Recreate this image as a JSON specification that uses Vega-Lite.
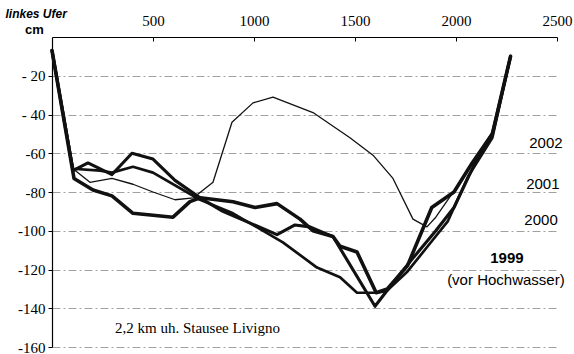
{
  "$schema": "https://vega.github.io/schema/vega-lite/v6.json",
  "width": 505,
  "height": 310,
  "autosize": "none",
  "padding": {"left": 52, "top": 37, "right": 17, "bottom": 7},
  "background": "white",
  "view": {"stroke": null},
  "config": {"font": "Liberation Sans"},
  "datasets": {
    "profiles": [
      {"yr": "1999", "x": 0, "y": -7}, {"yr": "1999", "x": 109, "y": -73}, {"yr": "1999", "x": 203, "y": -79}, {"yr": "1999", "x": 297, "y": -82}, {"yr": "1999", "x": 401, "y": -91}, {"yr": "1999", "x": 599, "y": -93}, {"yr": "1999", "x": 683, "y": -85}, {"yr": "1999", "x": 733, "y": -83}, {"yr": "1999", "x": 896, "y": -85}, {"yr": "1999", "x": 1005, "y": -88}, {"yr": "1999", "x": 1114, "y": -86}, {"yr": "1999", "x": 1228, "y": -94}, {"yr": "1999", "x": 1292, "y": -100}, {"yr": "1999", "x": 1391, "y": -103}, {"yr": "1999", "x": 1426, "y": -108}, {"yr": "1999", "x": 1510, "y": -111}, {"yr": "1999", "x": 1605, "y": -132}, {"yr": "1999", "x": 1660, "y": -130}, {"yr": "1999", "x": 1760, "y": -118}, {"yr": "1999", "x": 1880, "y": -88}, {"yr": "1999", "x": 1990, "y": -80}, {"yr": "1999", "x": 2080, "y": -65}, {"yr": "1999", "x": 2180, "y": -50}, {"yr": "1999", "x": 2270, "y": -10},
      {"yr": "2000", "x": 0, "y": -7}, {"yr": "2000", "x": 104, "y": -69}, {"yr": "2000", "x": 178, "y": -65}, {"yr": "2000", "x": 297, "y": -71}, {"yr": "2000", "x": 396, "y": -60}, {"yr": "2000", "x": 500, "y": -63}, {"yr": "2000", "x": 609, "y": -74}, {"yr": "2000", "x": 733, "y": -83}, {"yr": "2000", "x": 846, "y": -90}, {"yr": "2000", "x": 1114, "y": -102}, {"yr": "2000", "x": 1203, "y": -97}, {"yr": "2000", "x": 1277, "y": -98}, {"yr": "2000", "x": 1391, "y": -103}, {"yr": "2000", "x": 1599, "y": -139}, {"yr": "2000", "x": 1658, "y": -131}, {"yr": "2000", "x": 1780, "y": -115}, {"yr": "2000", "x": 1900, "y": -100}, {"yr": "2000", "x": 1990, "y": -88}, {"yr": "2000", "x": 2090, "y": -66}, {"yr": "2000", "x": 2180, "y": -50}, {"yr": "2000", "x": 2270, "y": -10},
      {"yr": "2001", "x": 0, "y": -7}, {"yr": "2001", "x": 104, "y": -68}, {"yr": "2001", "x": 238, "y": -69}, {"yr": "2001", "x": 297, "y": -70}, {"yr": "2001", "x": 401, "y": -67}, {"yr": "2001", "x": 500, "y": -70}, {"yr": "2001", "x": 733, "y": -84}, {"yr": "2001", "x": 896, "y": -91}, {"yr": "2001", "x": 1143, "y": -106}, {"yr": "2001", "x": 1312, "y": -119}, {"yr": "2001", "x": 1426, "y": -124}, {"yr": "2001", "x": 1510, "y": -132}, {"yr": "2001", "x": 1609, "y": -132}, {"yr": "2001", "x": 1658, "y": -131}, {"yr": "2001", "x": 1760, "y": -121}, {"yr": "2001", "x": 1860, "y": -108}, {"yr": "2001", "x": 1960, "y": -95}, {"yr": "2001", "x": 2060, "y": -72}, {"yr": "2001", "x": 2180, "y": -52}, {"yr": "2001", "x": 2270, "y": -10},
      {"yr": "2002", "x": 0, "y": -7}, {"yr": "2002", "x": 104, "y": -68}, {"yr": "2002", "x": 188, "y": -75}, {"yr": "2002", "x": 297, "y": -73}, {"yr": "2002", "x": 401, "y": -76}, {"yr": "2002", "x": 500, "y": -80}, {"yr": "2002", "x": 609, "y": -84}, {"yr": "2002", "x": 700, "y": -83}, {"yr": "2002", "x": 797, "y": -75}, {"yr": "2002", "x": 891, "y": -44}, {"yr": "2002", "x": 995, "y": -34}, {"yr": "2002", "x": 1094, "y": -31}, {"yr": "2002", "x": 1292, "y": -39}, {"yr": "2002", "x": 1475, "y": -52}, {"yr": "2002", "x": 1589, "y": -61}, {"yr": "2002", "x": 1688, "y": -73}, {"yr": "2002", "x": 1787, "y": -94}, {"yr": "2002", "x": 1856, "y": -98}, {"yr": "2002", "x": 1900, "y": -93}, {"yr": "2002", "x": 2000, "y": -78}, {"yr": "2002", "x": 2180, "y": -49}, {"yr": "2002", "x": 2270, "y": -10}
    ],
    "labels": [
      {"t": "2002", "x": 2445, "y": -54.7},
      {"t": "2001", "x": 2430, "y": -75.9},
      {"t": "2000", "x": 2421, "y": -94.4},
      {"t": "1999", "x": 2252, "y": -114},
      {"t": "(vor Hochwasser)", "x": 2247, "y": -125.4}
    ],
    "note": [
      {"t": "2,2 km uh. Stausee Livigno", "x": 312, "y": -150.2}
    ]
  },
  "layer": [
    {
      "data": {"name": "profiles"},
      "mark": {"type": "line", "color": "#111", "strokeJoin": "round", "strokeCap": "round"},
      "encoding": {
        "x": {
          "field": "x", "type": "quantitative",
          "scale": {"domain": [0, 2500], "nice": false, "zero": false},
          "axis": {
            "orient": "top", "values": [500, 1000, 1500, 2000, 2500], "format": "d",
            "labelFont": "Liberation Serif", "labelFontSize": 15, "labelColor": "#000",
            "labelFlush": false, "labelPadding": 13, "tickSize": -4, "tickColor": "#000",
            "domainColor": "#000", "domainWidth": 1.2, "grid": false,
            "title": "linkes Ufer", "titleX": -47, "titleY": -20, "titleAlign": "left",
            "titleBaseline": "alphabetic", "titleFont": "Liberation Sans", "titleFontSize": 12,
            "titleFontStyle": "italic", "titleFontWeight": "bold", "titleColor": "#000"
          }
        },
        "y": {
          "field": "y", "type": "quantitative",
          "scale": {"domain": [-160, 0], "nice": false, "zero": false},
          "axis": {
            "orient": "left", "values": [-20, -40, -60, -80, -100, -120, -140, -160],
            "labelExpr": "datum.value >= -40 ? '- ' + abs(datum.value) : '-' + abs(datum.value)",
            "labelFont": "Liberation Serif", "labelFontSize": 15, "labelColor": "#000",
            "labelPadding": 3, "tickSize": 4, "tickColor": "#000",
            "domainColor": "#000", "domainWidth": 1.2,
            "grid": true, "gridColor": "#888", "gridDash": [8, 3, 2, 3], "gridWidth": 0.8,
            "title": "cm", "titleAngle": 0, "titleX": -18, "titleY": -4, "titleAlign": "center",
            "titleBaseline": "alphabetic", "titleFont": "Liberation Sans", "titleFontSize": 13,
            "titleFontWeight": "bold", "titleColor": "#000"
          }
        },
        "detail": {"field": "yr"},
        "strokeWidth": {"field": "yr", "type": "ordinal", "scale": {"type": "ordinal", "domain": ["1999", "2000", "2001", "2002"], "range": [3.6, 3.1, 2.7, 1.3]}, "legend": null}
      }
    },
    {
      "data": {"name": "labels"},
      "transform": [{"filter": "datum.t !== '1999'"}],
      "mark": {"type": "text", "font": "Liberation Sans", "fontSize": 15, "align": "center", "baseline": "middle", "color": "#000"},
      "encoding": {
        "x": {"field": "x", "type": "quantitative"},
        "y": {"field": "y", "type": "quantitative"},
        "text": {"field": "t"}
      }
    },
    {
      "data": {"name": "labels"},
      "transform": [{"filter": "datum.t === '1999'"}],
      "mark": {"type": "text", "font": "Liberation Sans", "fontSize": 15, "fontWeight": "bold", "align": "center", "baseline": "middle", "color": "#000"},
      "encoding": {
        "x": {"field": "x", "type": "quantitative"},
        "y": {"field": "y", "type": "quantitative"},
        "text": {"field": "t"}
      }
    },
    {
      "data": {"name": "note"},
      "mark": {"type": "text", "font": "Liberation Serif", "fontSize": 15, "align": "left", "baseline": "middle", "color": "#000"},
      "encoding": {
        "x": {"field": "x", "type": "quantitative"},
        "y": {"field": "y", "type": "quantitative"},
        "text": {"field": "t"}
      }
    }
  ]
}
